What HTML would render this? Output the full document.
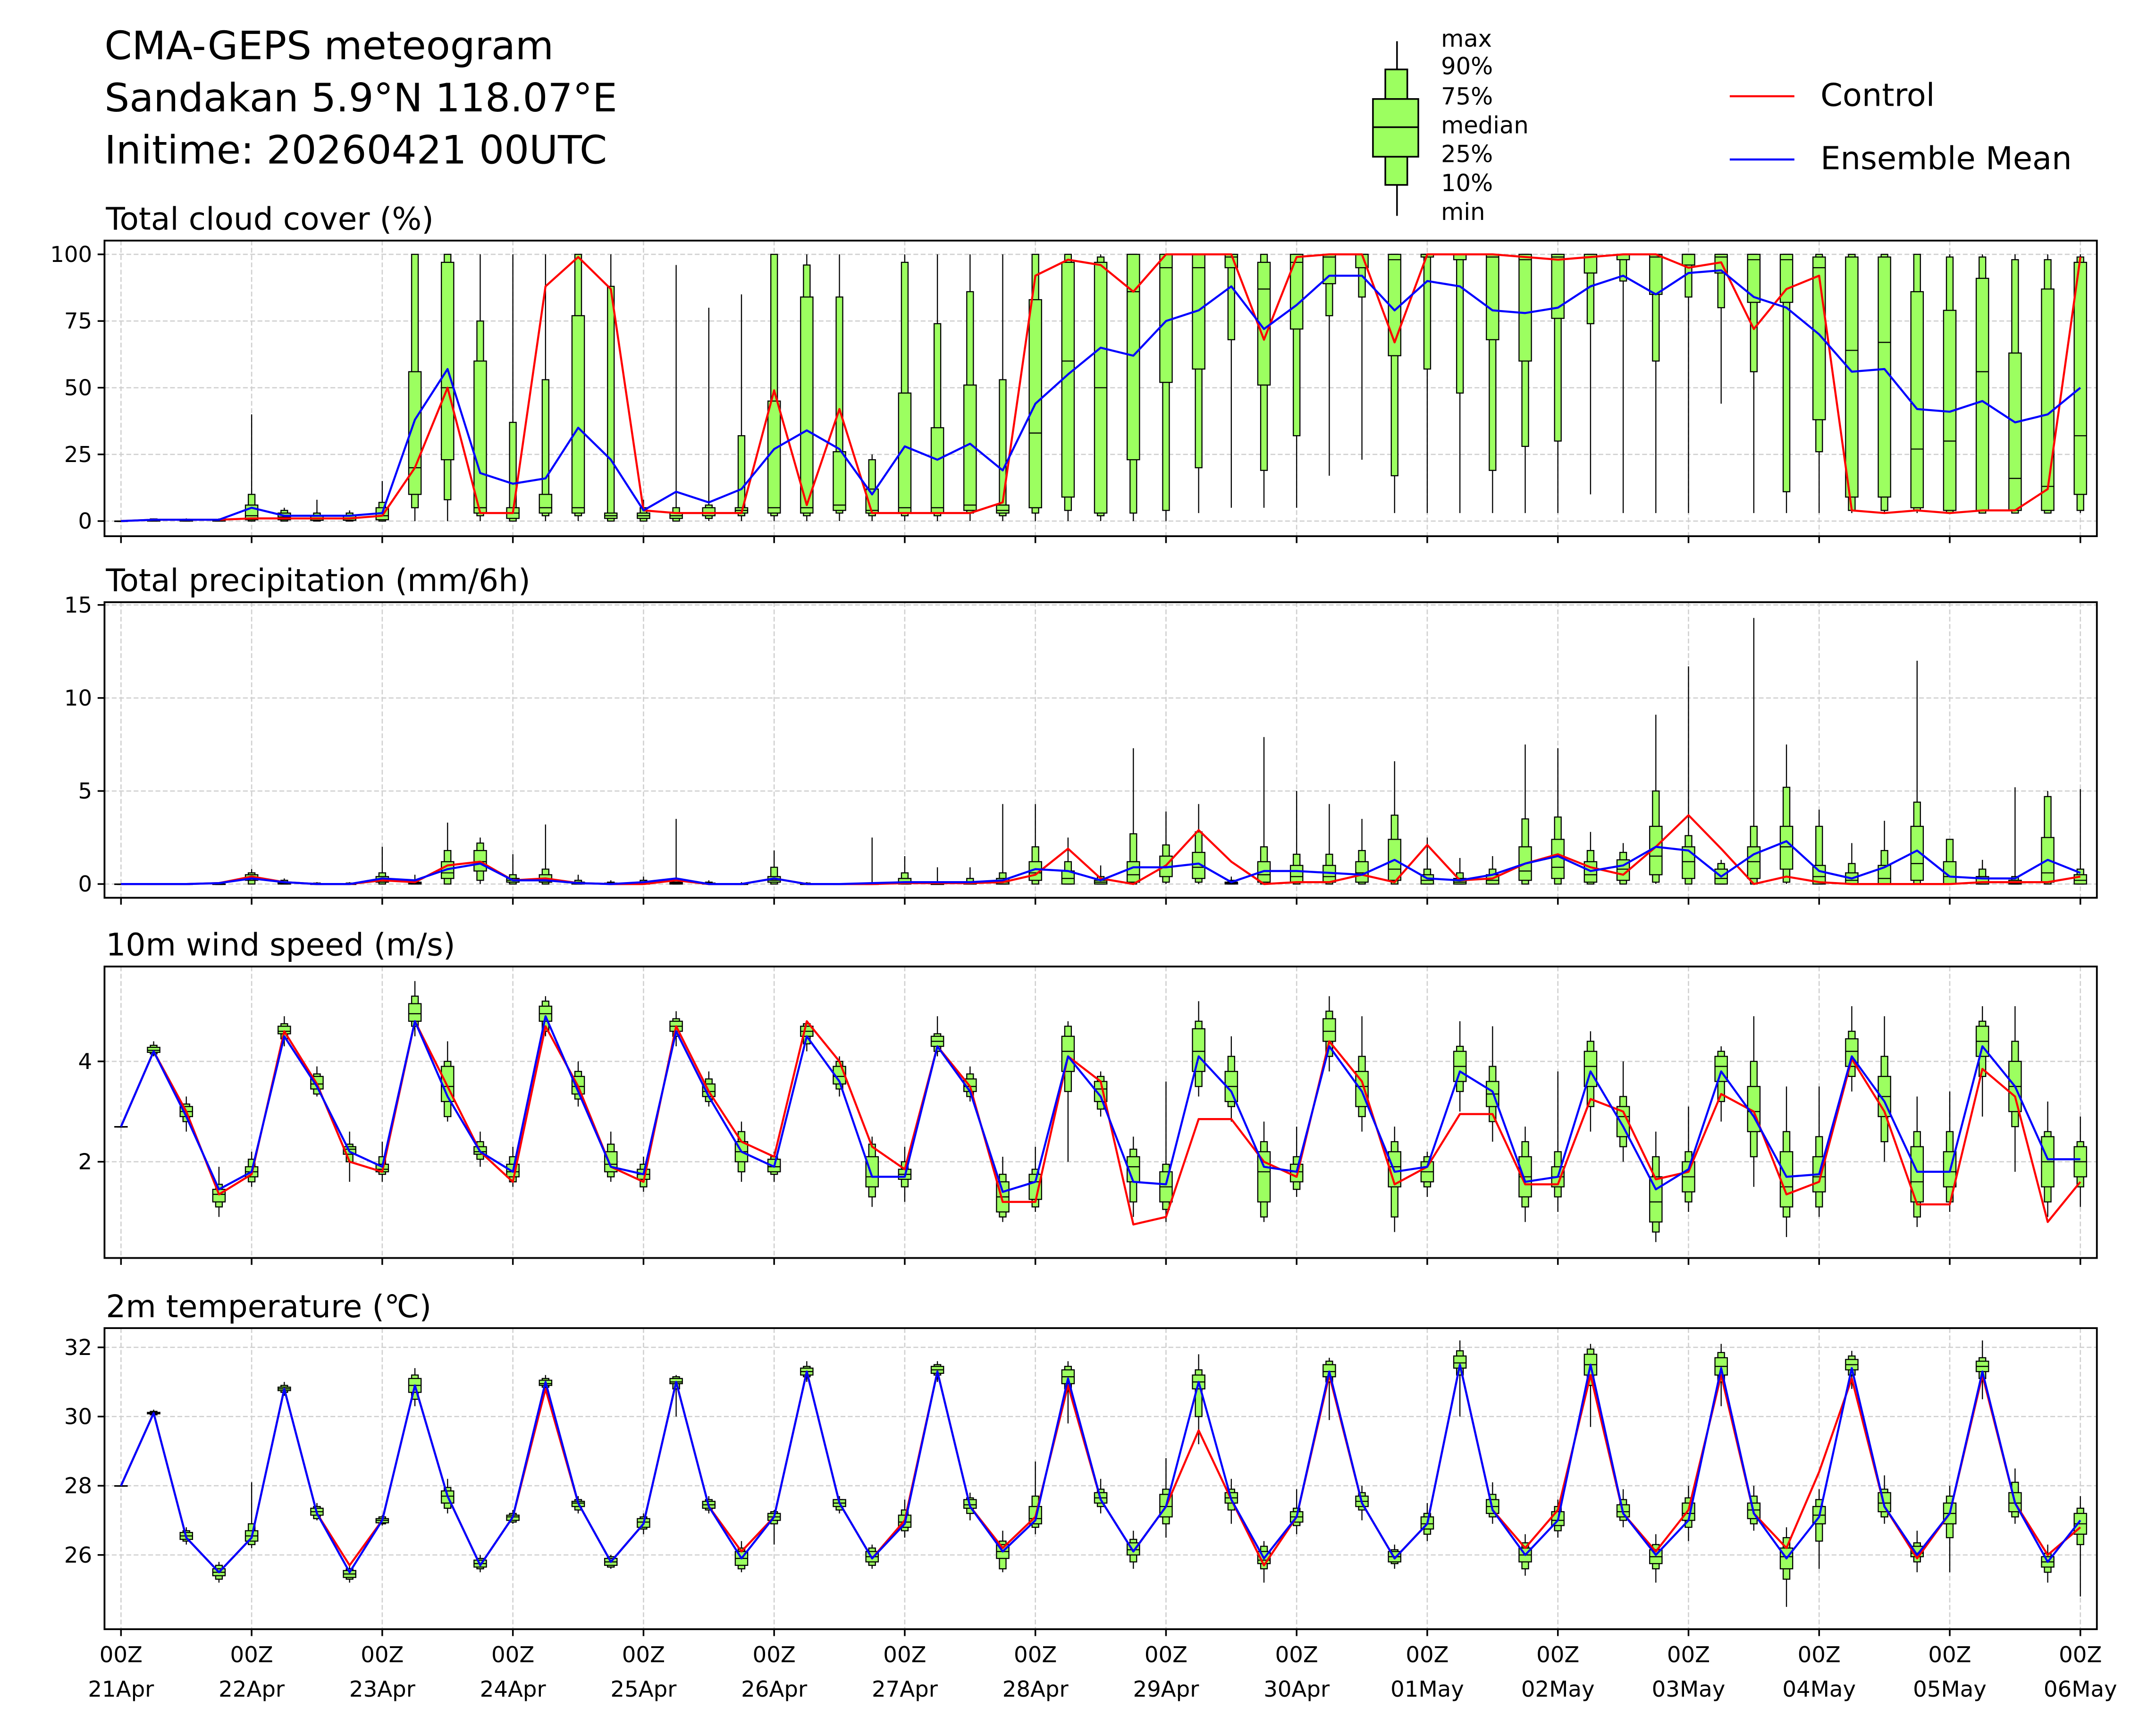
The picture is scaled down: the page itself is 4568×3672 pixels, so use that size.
<!DOCTYPE html>
<html><head><meta charset="utf-8"><title>CMA-GEPS meteogram</title>
<style>html,body{margin:0;padding:0;background:#fff;}svg{display:block;}text{font-family:"DejaVu Sans","Liberation Sans",sans-serif;fill:#000;}</style>
</head><body>
<svg id="chart" xmlns="http://www.w3.org/2000/svg" width="4568" height="3672" viewBox="0 0 1568 1260.5" preserveAspectRatio="none">
<rect x="0" y="0" width="1568" height="1261" fill="#fff"/>
<g>
<text x="76" y="43" font-size="28.6">CMA-GEPS meteogram</text>
<text x="76" y="81" font-size="28.6">Sandakan 5.9°N 118.07°E</text>
<text x="76" y="119" font-size="28.6">Initime: 20260421 00UTC</text>
</g>
<g>
<line x1="1016" y1="30" x2="1016" y2="157" stroke="#000" stroke-width="1.2"/>
<rect x="1007.5" y="50.5" width="16" height="84" fill="#9cff60" stroke="#000" stroke-width="1.2"/>
<rect x="998.5" y="72" width="33" height="42" fill="#9cff60" stroke="#000" stroke-width="1.2"/>
<line x1="998.5" y1="92.5" x2="1031.5" y2="92.5" stroke="#000" stroke-width="1.2"/>
<text x="1048" y="34" font-size="17">max</text>
<text x="1048" y="54" font-size="17">90%</text>
<text x="1048" y="76" font-size="17">75%</text>
<text x="1048" y="97" font-size="17">median</text>
<text x="1048" y="118" font-size="17">25%</text>
<text x="1048" y="139" font-size="17">10%</text>
<text x="1048" y="160" font-size="17">min</text>
</g>
<g>
<line x1="1258" y1="70" x2="1305" y2="70" stroke="#f00" stroke-width="1.5"/>
<text x="1324" y="77" font-size="23">Control</text>
<line x1="1258" y1="116" x2="1305" y2="116" stroke="#00f" stroke-width="1.5"/>
<text x="1324" y="123" font-size="23">Ensemble Mean</text>
</g>
<g id="panels"></g>
</svg>
<script>
// ---------- data (index = forecast step, every 6h from 2026-04-21 00Z) ----------
const dayLabels = ["21Apr","22Apr","23Apr","24Apr","25Apr","26Apr","27Apr","28Apr","29Apr","30Apr","01May","02May","03May","04May","05May","06May"];
// box tuples: [min, p10, p25, median, p75, p90, max]
const cloudBox = [
[0,0,0,0,0,0,0],[0,0,0,0.3,0.6,0.8,1],[0,0,0,0.2,0.5,0.7,1],[0,0,0,0.2,0.4,0.6,1],[0,0,0.5,2,6,10,40],[0,0,0.5,1.5,3,4,5],[0,0,0.3,1,2,3,8],[0,0,0.3,1,2,3,4],[0,0,0.5,2,5,7,15],[0,5,10,20,56,100,100],
[0,8,23,50,97,100,100],[0,2,3,5,60,75,100],[0,0,1,3,5,37,100],[0,2,3,5,10,53,100],[0,2,3,5,77,100,100],[0,0,1,2,3,88,100],[0,0,1,2,3,5,8],[0,0,1,2,3,5,96],[0,1,2,3,5,6,80],[0,2,3,4,5,32,85],
[0,2,3,5,45,100,100],[0,2,3,5,84,96,100],[0,3,4,6,26,84,100],[0,2,3,4,12,23,25],[0,2,3,5,48,97,100],[0,2,3,5,35,74,100],[0,3,4,6,51,86,100],[0,2,3,4,6,53,100],[0,3,5,33,83,100,100],[0,4,9,60,97,100,100],
[0,2,3,50,97,99,100],[0,3,23,86,100,100,100],[0,4,52,95,100,100,100],[3,20,57,95,100,100,100],[5,68,95,99,100,100,100],[5,19,51,87,97,100,100],[5,32,72,97,100,100,100],[17,77,89,99,100,100,100],[23,84,95,100,100,100,100],[3,17,62,98,100,100,100],
[3,57,99,100,100,100,100],[3,48,98,100,100,100,100],[3,19,68,99,100,100,100],[3,28,60,98,100,100,100],[3,30,76,99,100,100,100],[10,74,93,99,100,100,100],[3,90,98,100,100,100,100],[3,60,85,99,100,100,100],[3,84,96,100,100,100,100],[44,80,93,99,100,100,100],
[3,56,82,98,100,100,100],[3,11,82,98,100,100,100],[3,26,38,95,99,100,100],[3,4,9,64,99,100,100],[3,4,9,67,99,100,100],[3,4,5,27,86,100,100],[3,3,4,30,79,99,100],[3,3,4,56,91,99,100],[3,3,4,16,63,98,100],[3,3,4,13,87,98,100],
[3,4,10,32,97,99,100]];
const cloudCtrl = [0,0.5,0.5,0.5,1,1,1,1,2,20,50,3,3,88,99,87,4,3,3,3,49,6,42,3,3,3,3,7,92,98,96,86,100,100,100,68,99,100,100,67,100,100,100,99,98,99,100,100,95,97,72,87,92,4,3,4,3,4,4,12,99];
const cloudMean = [0,0.5,0.5,0.5,5,2,2,2,3,38,57,18,14,16,35,23,4,11,7,12,27,34,27,10,28,23,29,19,44,55,65,62,75,79,88,72,81,92,92,79,90,88,79,78,80,88,92,85,93,94,84,80,70,56,57,42,41,45,37,40,50];

const precBox = [
[0,0,0,0,0,0,0],[0,0,0,0,0,0,0.05],[0,0,0,0,0,0,0.05],[0,0,0,0,0,0,0.1],[0,0,0.2,0.3,0.5,0.6,0.8],[0,0,0,0.05,0.1,0.2,0.3],[0,0,0,0,0,0.05,0.1],[0,0,0,0,0,0.05,0.1],[0,0,0.1,0.2,0.4,0.6,2.0],[0,0,0,0.05,0.1,0.2,0.5],
[0,0,0.3,0.6,1.2,1.8,3.3],[0,0.2,0.7,1.2,1.8,2.2,2.5],[0,0,0.1,0.2,0.3,0.5,1.6],[0,0,0.1,0.2,0.5,0.8,3.2],[0,0,0,0.05,0.1,0.2,0.5],[0,0,0,0,0.05,0.1,0.2],[0,0,0,0,0.1,0.2,0.4],[0,0,0,0.05,0.1,0.2,3.5],[0,0,0,0,0.05,0.1,0.2],[0,0,0,0,0,0,0.1],
[0,0,0.1,0.2,0.4,0.9,1.8],[0,0,0,0,0,0.05,0.1],[0,0,0,0,0,0,0.05],[0,0,0,0,0,0.05,2.5],[0,0,0,0.1,0.3,0.6,1.5],[0,0,0,0,0,0.05,0.9],[0,0,0,0,0.1,0.3,0.9],[0,0,0,0.1,0.3,0.6,4.3],[0,0,0.2,0.6,1.2,2.0,4.3],[0,0,0,0.3,0.7,1.2,2.5],
[0,0,0,0.1,0.2,0.4,1.0],[0,0,0.1,0.5,1.2,2.7,7.3],[0,0.1,0.4,0.9,1.5,2.1,3.9],[0,0.1,0.3,0.9,1.7,2.8,4.3],[0,0,0,0.05,0.1,0.2,0.4],[0,0,0.1,0.5,1.2,2.0,7.9],[0,0,0.1,0.4,1.0,1.6,5.0],[0,0,0.1,0.4,1.0,1.6,4.3],[0,0,0.1,0.6,1.2,1.8,3.5],[0,0,0.2,0.8,2.4,3.7,6.6],
[0,0,0,0.2,0.5,0.8,2.5],[0,0,0,0.1,0.3,0.6,1.4],[0,0,0,0.2,0.5,0.8,1.5],[0,0,0.2,0.7,2.0,3.5,7.5],[0,0,0.3,0.9,2.4,3.6,7.3],[0,0,0.1,0.5,1.2,1.8,2.8],[0,0,0.2,0.8,1.3,1.7,2.2],[0,0.1,0.5,1.5,3.1,5.0,9.1],[0,0,0.3,1.2,2.0,2.6,11.7],[0,0,0,0.3,0.8,1.1,1.3],
[0,0,0.3,1.2,2.0,3.1,14.3],[0,0.1,0.8,2.0,3.1,5.2,7.5],[0,0,0,0.4,1.0,3.1,4.0],[0,0,0,0.2,0.6,1.1,2.2],[0,0,0,0.3,1.0,1.8,3.4],[0,0,0.2,1.1,3.1,4.4,12.0],[0,0,0,0.4,1.2,2.4,2.4],[0,0,0,0.1,0.4,0.8,1.3],[0,0,0,0.05,0.2,0.4,5.2],[0,0,0.1,0.6,2.5,4.7,5.0],
[0,0,0,0.2,0.5,0.8,5.1]];
const precCtrl = [0,0,0,0.05,0.4,0.1,0,0,0.2,0.1,1.0,1.2,0.2,0.3,0.05,0,0,0.2,0,0,0.3,0,0,0,0.05,0.05,0.05,0.1,0.5,1.9,0.3,0,1.0,2.9,1.2,0,0.1,0.1,0.5,0.1,2.1,0.2,0.3,1.1,1.6,0.9,0.5,2.0,3.7,1.9,0,0.4,0.1,0,0,0,0,0.1,0.1,0.1,0.4];
const precMean = [0,0,0,0.05,0.3,0.1,0,0,0.3,0.2,0.8,1.1,0.2,0.2,0.05,0,0.1,0.3,0,0,0.3,0,0,0.05,0.1,0.1,0.1,0.2,0.8,0.7,0.2,0.9,0.9,1.1,0.1,0.7,0.7,0.6,0.5,1.3,0.3,0.2,0.5,1.1,1.5,0.7,1.0,2.0,1.8,0.4,1.6,2.3,0.7,0.3,0.9,1.8,0.4,0.3,0.3,1.3,0.6];

const windBox = [
[2.7,2.7,2.7,2.7,2.7,2.7,2.7],[4.1,4.15,4.18,4.22,4.28,4.32,4.4],[2.6,2.8,2.9,3.0,3.1,3.15,3.3],[0.9,1.1,1.2,1.35,1.45,1.55,1.9],[1.5,1.6,1.7,1.8,1.9,2.05,2.2],[4.3,4.45,4.55,4.6,4.7,4.75,4.9],[3.3,3.35,3.45,3.55,3.7,3.75,3.9],[1.6,2.0,2.15,2.25,2.3,2.35,2.6],[1.6,1.75,1.8,1.85,1.95,2.1,2.4],[4.5,4.7,4.8,4.95,5.15,5.3,5.6],
[2.8,2.9,3.2,3.5,3.9,4.0,4.4],[1.9,2.05,2.15,2.2,2.3,2.4,2.6],[1.5,1.6,1.7,1.8,1.95,2.1,2.3],[4.5,4.6,4.8,4.95,5.1,5.2,5.3],[3.1,3.25,3.35,3.5,3.7,3.8,4.0],[1.6,1.7,1.8,1.95,2.2,2.35,2.6],[1.4,1.5,1.65,1.75,1.85,1.95,2.1],[4.3,4.5,4.6,4.7,4.8,4.85,5.0],[3.1,3.2,3.3,3.4,3.55,3.65,3.8],[1.6,1.8,2.0,2.2,2.4,2.6,2.8],
[1.6,1.75,1.8,1.9,2.05,2.1,2.2],[4.2,4.35,4.5,4.6,4.7,4.75,4.8],[3.3,3.45,3.55,3.7,3.9,4.0,4.1],[1.1,1.3,1.5,1.7,2.1,2.35,2.5],[1.2,1.5,1.65,1.75,1.85,2.0,2.3],[4.1,4.2,4.3,4.4,4.5,4.55,4.9],[3.2,3.3,3.4,3.5,3.65,3.75,3.9],[0.8,0.9,1.0,1.3,1.6,1.75,2.1],[1.0,1.1,1.25,1.6,1.75,1.85,2.3],[2.0,3.4,3.8,4.2,4.5,4.7,4.8],
[2.9,3.05,3.2,3.45,3.6,3.7,3.8],[0.9,1.2,1.6,1.9,2.1,2.25,2.5],[0.8,1.05,1.2,1.5,1.8,1.95,3.6],[3.3,3.5,3.8,4.2,4.65,4.8,5.2],[2.8,3.1,3.2,3.5,3.8,4.1,4.5],[0.8,0.9,1.2,1.8,2.2,2.4,2.8],[1.3,1.45,1.6,1.8,1.95,2.1,2.7],[3.8,4.1,4.4,4.6,4.85,5.0,5.3],[2.6,2.9,3.1,3.5,3.8,4.1,4.9],[0.6,0.9,1.5,1.9,2.2,2.4,2.7],
[1.3,1.5,1.6,1.8,2.0,2.1,2.2],[3.0,3.4,3.6,3.9,4.2,4.3,4.8],[2.4,2.8,3.1,3.35,3.6,3.9,4.7],[0.8,1.1,1.3,1.7,2.1,2.4,2.7],[1.0,1.3,1.5,1.7,1.9,2.2,3.8],[2.6,3.1,3.5,3.9,4.2,4.4,4.6],[2.0,2.3,2.5,2.9,3.1,3.3,4.0],[0.4,0.6,0.8,1.2,1.7,2.1,2.6],[1.0,1.2,1.4,1.7,2.0,2.2,3.1],[2.8,3.2,3.6,3.9,4.1,4.2,4.3],
[1.5,2.1,2.6,3.0,3.5,4.0,4.9],[0.5,0.9,1.1,1.5,2.2,2.6,3.5],[0.9,1.1,1.4,1.7,2.1,2.5,3.5],[3.4,3.7,3.9,4.2,4.45,4.6,5.1],[2.0,2.4,2.9,3.3,3.7,4.1,4.9],[0.7,0.9,1.2,1.6,2.3,2.6,3.3],[1.0,1.2,1.5,1.8,2.2,2.6,3.4],[2.9,3.7,4.1,4.4,4.7,4.8,5.1],[1.8,2.7,3.0,3.5,4.0,4.4,5.1],[0.9,1.2,1.5,2.0,2.5,2.6,3.2],
[1.1,1.5,1.7,2.0,2.3,2.4,2.9]];
const windCtrl = [2.7,4.2,3.0,1.35,1.75,4.6,3.55,2.0,1.8,4.8,3.5,2.2,1.6,4.7,3.5,1.9,1.6,4.7,3.4,2.4,2.1,4.8,4.0,2.3,1.85,4.3,3.5,1.2,1.2,4.1,3.6,0.75,0.9,2.85,2.85,2.0,1.7,4.4,3.6,1.55,1.9,2.95,2.95,1.55,1.55,3.25,3.0,1.65,1.8,3.35,3.0,1.35,1.6,4.05,3.0,1.15,1.15,3.85,3.3,0.8,1.6];
const windMean = [2.7,4.2,2.9,1.45,1.8,4.5,3.5,2.2,1.9,4.8,3.3,2.2,1.8,4.9,3.4,1.9,1.75,4.6,3.3,2.2,1.9,4.5,3.6,1.7,1.7,4.3,3.4,1.4,1.6,4.1,3.3,1.6,1.55,4.1,3.4,1.9,1.8,4.3,3.4,1.8,1.9,3.8,3.4,1.6,1.7,3.8,2.7,1.45,1.85,3.8,2.9,1.7,1.75,4.1,3.2,1.8,1.8,4.3,3.5,2.05,2.05];

const tempBox = [
[28,28,28,28,28,28,28],[30.0,30.05,30.08,30.1,30.12,30.15,30.2],[26.3,26.4,26.45,26.55,26.65,26.7,26.8],[25.2,25.3,25.4,25.5,25.6,25.7,25.8],[26.2,26.3,26.4,26.55,26.7,26.9,28.1],[30.6,30.7,30.75,30.8,30.85,30.9,31.0],[27.0,27.05,27.15,27.25,27.35,27.4,27.5],[25.2,25.3,25.35,25.45,25.55,25.6,25.7],[26.85,26.9,26.93,27.0,27.05,27.1,27.15],[30.3,30.5,30.7,30.9,31.1,31.2,31.4],
[27.2,27.35,27.5,27.7,27.85,27.95,28.2],[25.5,25.6,25.65,25.75,25.85,25.9,26.0],[26.9,26.95,27.0,27.1,27.15,27.2,27.3],[30.7,30.85,30.9,30.95,31.05,31.1,31.2],[27.2,27.3,27.4,27.5,27.55,27.6,27.7],[25.6,25.65,25.7,25.8,25.9,25.95,26.0],[26.6,26.75,26.8,26.95,27.05,27.1,27.2],[30.0,30.8,30.95,31.0,31.1,31.15,31.2],[27.2,27.3,27.35,27.45,27.55,27.6,27.7],[25.5,25.6,25.7,25.9,26.1,26.2,26.4],
[26.3,26.9,27.0,27.1,27.2,27.25,27.3],[31.0,31.15,31.2,31.3,31.4,31.45,31.6],[27.2,27.3,27.4,27.5,27.6,27.6,27.7],[25.6,25.7,25.8,25.95,26.1,26.2,26.3],[26.5,26.7,26.8,26.95,27.15,27.3,27.6],[31.0,31.2,31.25,31.35,31.45,31.5,31.6],[27.0,27.2,27.35,27.45,27.6,27.65,27.8],[25.5,25.6,25.9,26.1,26.3,26.4,26.7],[26.6,26.8,26.9,27.05,27.4,27.7,28.7],[29.8,30.8,30.95,31.15,31.35,31.45,31.6],
[27.2,27.4,27.5,27.65,27.8,27.9,28.2],[25.6,25.8,26.0,26.15,26.35,26.45,26.7],[26.5,26.9,27.1,27.4,27.75,27.9,28.8],[29.2,30.0,30.8,31.0,31.2,31.35,31.8],[26.9,27.3,27.5,27.65,27.8,27.9,28.2],[25.2,25.6,25.75,25.85,26.1,26.25,26.4],[26.6,26.85,26.95,27.1,27.25,27.35,27.9],[29.9,31.0,31.15,31.3,31.5,31.6,31.7],[27.0,27.3,27.4,27.55,27.7,27.8,28.0],[25.6,25.75,25.8,25.95,26.1,26.15,26.3],
[26.4,26.6,26.75,26.9,27.1,27.2,27.5],[30.0,31.2,31.4,31.55,31.75,31.9,32.2],[26.9,27.1,27.2,27.4,27.6,27.75,28.1],[25.4,25.6,25.8,26.0,26.2,26.35,26.6],[26.5,26.7,26.85,27.0,27.25,27.4,27.6],[29.7,30.9,31.2,31.5,31.8,31.95,32.1],[26.8,27.0,27.1,27.25,27.45,27.6,27.9],[25.2,25.6,25.75,25.95,26.15,26.3,26.6],[26.4,26.8,27.0,27.2,27.5,27.65,28.0],[30.3,31.0,31.2,31.45,31.7,31.85,32.1],
[26.7,26.9,27.05,27.3,27.5,27.7,28.0],[24.5,25.3,25.6,25.95,26.2,26.5,26.8],[25.6,26.4,26.9,27.15,27.4,27.6,27.9],[30.8,31.2,31.35,31.5,31.65,31.75,31.9],[26.9,27.1,27.25,27.5,27.8,27.9,28.3],[25.5,25.8,25.95,26.05,26.25,26.35,26.7],[25.5,26.5,26.9,27.2,27.5,27.7,28.0],[30.5,31.1,31.3,31.45,31.6,31.7,32.2],[26.9,27.1,27.25,27.5,27.8,28.1,28.5],[25.2,25.5,25.65,25.8,25.95,26.05,26.3],
[24.8,26.3,26.6,26.9,27.2,27.35,27.7]];
const tempCtrl = [28.0,30.1,26.5,25.5,26.5,30.8,27.2,25.7,27.0,30.9,27.7,25.7,27.1,30.8,27.5,25.8,26.9,31.0,27.4,26.1,27.1,31.3,27.5,25.9,27.0,31.3,27.4,26.2,27.1,30.9,27.6,26.1,27.4,29.6,27.6,25.7,27.1,31.2,27.5,25.9,26.9,31.5,27.3,26.2,27.3,31.2,27.2,26.1,27.3,31.2,27.2,26.2,28.4,31.1,27.4,25.9,27.2,31.2,27.5,26.0,26.8];
const tempMean = [28.0,30.1,26.5,25.5,26.5,30.8,27.2,25.5,27.0,30.9,27.7,25.7,27.1,31.0,27.5,25.8,26.9,31.0,27.4,25.9,27.1,31.3,27.5,25.9,26.9,31.3,27.4,26.1,27.0,31.1,27.6,26.1,27.4,31.0,27.6,25.9,27.1,31.3,27.5,25.9,26.9,31.5,27.3,26.0,27.0,31.5,27.2,26.0,27.0,31.4,27.2,25.9,27.1,31.4,27.4,26.0,27.2,31.3,27.5,25.8,27.0];

const cloudTicks = [0,25,50,75,100];
const precTicks = [0,5,10,15];
const windTicks = [2,4];
const tempTicks = [26,28,30,32];

// ---------- drawing ----------
const NS = "http://www.w3.org/2000/svg";
const root = document.getElementById("panels");
const X0 = 88, X1 = 1513, NSTEP = 60, FL = 76, FR = 1525;
function xs(i){ return X0 + (X1 - X0) * i / NSTEP; }
function mk(tag, parent){ const e = document.createElementNS(NS, tag); parent.appendChild(e); return e; }

const panels = [
 {key:"cloud", title:"Total cloud cover (%)", top:175, bot:390, v0:0, y0:379, v1:100, y1:185, box:cloudBox, ctrl:cloudCtrl, mean:cloudMean, ticks:cloudTicks},
 {key:"precip", title:"Total precipitation (mm/6h)", top:438, bot:653, v0:0, y0:643, v1:15, y1:440, box:precBox, ctrl:precCtrl, mean:precMean, ticks:precTicks},
 {key:"wind", title:"10m wind speed (m/s)", top:703, bot:915, v0:2, y0:845, v1:4, y1:772, box:windBox, ctrl:windCtrl, mean:windMean, ticks:windTicks},
 {key:"temp", title:"2m temperature (\u2103)", top:966, bot:1185, v0:26, y0:1131, v1:32, y1:980, box:tempBox, ctrl:tempCtrl, mean:tempMean, ticks:tempTicks}
];

panels.forEach((p, pi) => {
  const ys = v => p.y0 + (v - p.v0) * (p.y1 - p.y0) / (p.v1 - p.v0);
  const g = mk("g", root);
  
  

  const t = mk("text", g);
  
  
  t.setAttribute("x", 77); t.setAttribute("y", p.top - 8); t.setAttribute("font-size", "22.7");
  t.textContent = p.title;

  for (let d = 0; d < dayLabels.length; d++) {
    const gx = xs(d * 4);
    const gl = mk("line", g);
    
    
    gl.setAttribute("x1", gx); gl.setAttribute("x2", gx); gl.setAttribute("y1", p.top); gl.setAttribute("y2", p.bot);
    gl.setAttribute("stroke", "#d0d0d0"); gl.setAttribute("stroke-width", "0.9"); gl.setAttribute("stroke-dasharray", "3.5,1.8");
    const tk = mk("line", g);
    
    
    tk.setAttribute("x1", gx); tk.setAttribute("x2", gx); tk.setAttribute("y1", p.bot); tk.setAttribute("y2", p.bot + 5);
    tk.setAttribute("stroke", "#000"); tk.setAttribute("stroke-width", "1.2");
  }
  p.ticks.forEach(v => {
    const y = ys(v);
    const gl = mk("line", g);
    
    
    gl.setAttribute("x1", FL); gl.setAttribute("x2", FR); gl.setAttribute("y1", y); gl.setAttribute("y2", y);
    gl.setAttribute("stroke", "#d0d0d0"); gl.setAttribute("stroke-width", "0.9"); gl.setAttribute("stroke-dasharray", "3.5,1.8");
    const tk = mk("line", g);
    
    
    tk.setAttribute("x1", FL - 5); tk.setAttribute("x2", FL); tk.setAttribute("y1", y); tk.setAttribute("y2", y);
    tk.setAttribute("stroke", "#000"); tk.setAttribute("stroke-width", "1.2");
    const lb = mk("text", g);
    
    
    lb.setAttribute("x", FL - 9); lb.setAttribute("y", y + 5.5); lb.setAttribute("font-size", "16"); lb.setAttribute("text-anchor", "end");
    lb.textContent = String(v);
  });

  p.box.forEach((b, i) => {
    const x = xs(i);
    const bg = mk("g", g);
    
    
    const wh = mk("line", bg);
    wh.setAttribute("x1", x); wh.setAttribute("x2", x); wh.setAttribute("y1", ys(b[0])); wh.setAttribute("y2", ys(b[6]));
    wh.setAttribute("stroke", "#000"); wh.setAttribute("stroke-width", "0.8");
    const o = mk("rect", bg);
    o.setAttribute("x", x - 2.4); o.setAttribute("width", 4.8);
    o.setAttribute("y", ys(b[5])); o.setAttribute("height", Math.max(0.3, ys(b[1]) - ys(b[5])));
    o.setAttribute("fill", "#9cff60"); o.setAttribute("stroke", "#000"); o.setAttribute("stroke-width", "0.8");
    const n = mk("rect", bg);
    n.setAttribute("x", x - 4.5); n.setAttribute("width", 9);
    n.setAttribute("y", ys(b[4])); n.setAttribute("height", Math.max(0.3, ys(b[2]) - ys(b[4])));
    n.setAttribute("fill", "#9cff60"); n.setAttribute("stroke", "#000"); n.setAttribute("stroke-width", "0.8");
    const m = mk("line", bg);
    m.setAttribute("x1", x - 4.5); m.setAttribute("x2", x + 4.5); m.setAttribute("y1", ys(b[3])); m.setAttribute("y2", ys(b[3]));
    m.setAttribute("stroke", "#000"); m.setAttribute("stroke-width", "0.8");
  });

  const c = mk("polyline", g);
  
  
  c.setAttribute("points", p.ctrl.map((v, i) => xs(i) + "," + ys(v)).join(" "));
  c.setAttribute("fill", "none"); c.setAttribute("stroke", "#f00"); c.setAttribute("stroke-width", "1.5"); c.setAttribute("stroke-linejoin", "round");
  const mn = mk("polyline", g);
  
  
  mn.setAttribute("points", p.mean.map((v, i) => xs(i) + "," + ys(v)).join(" "));
  mn.setAttribute("fill", "none"); mn.setAttribute("stroke", "#00f"); mn.setAttribute("stroke-width", "1.5"); mn.setAttribute("stroke-linejoin", "round");

  const f = mk("rect", g);
  
  
  f.setAttribute("x", FL); f.setAttribute("y", p.top); f.setAttribute("width", FR - FL); f.setAttribute("height", p.bot - p.top);
  f.setAttribute("fill", "none"); f.setAttribute("stroke", "#000"); f.setAttribute("stroke-width", "1.3");

  if (pi === panels.length - 1) {
    dayLabels.forEach((d, k) => {
      const x = xs(k * 4);
      const l1 = mk("text", g);
      
      
      l1.setAttribute("x", x); l1.setAttribute("y", p.bot + 24); l1.setAttribute("font-size", "16"); l1.setAttribute("text-anchor", "middle");
      l1.textContent = "00Z";
      const l2 = mk("text", g);
      
      
      l2.setAttribute("x", x); l2.setAttribute("y", p.bot + 49); l2.setAttribute("font-size", "16"); l2.setAttribute("text-anchor", "middle");
      l2.textContent = d;
    });
  }
});
</script>
</body></html>
